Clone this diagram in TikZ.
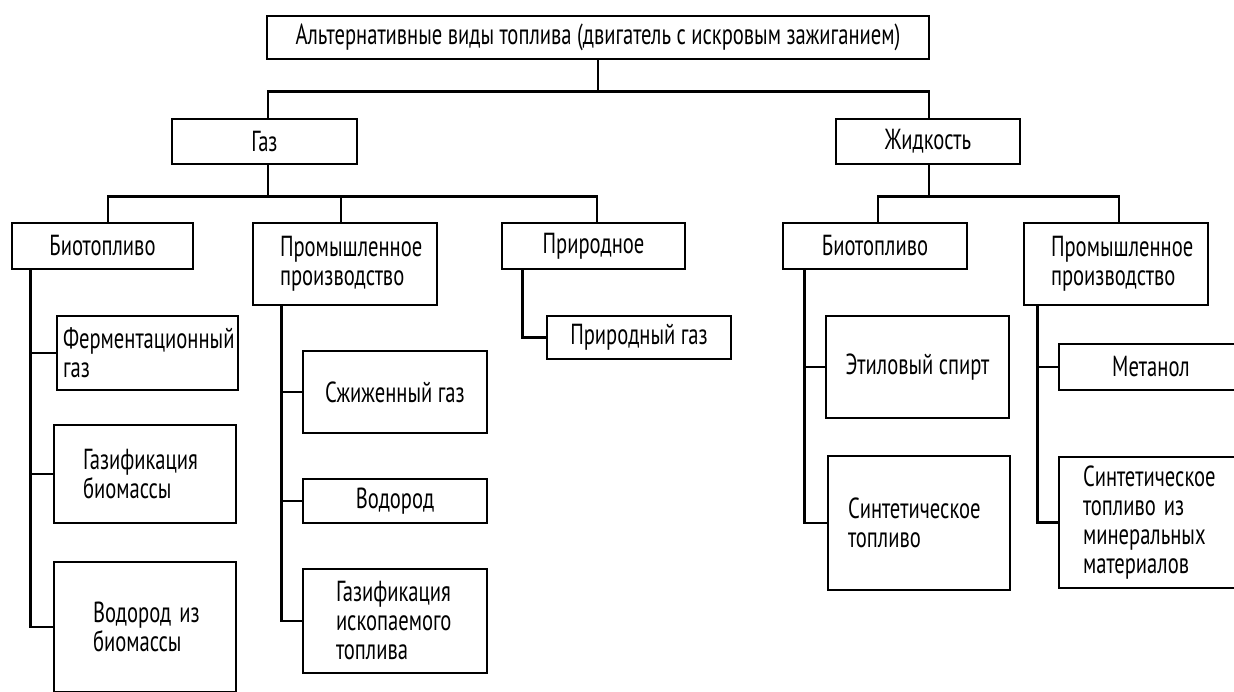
\documentclass[tikz,border=0pt]{standalone}
\usepackage{fontspec}
\setmainfont[FakeStretch=0.71]{PT Sans}
\begin{document}
\begin{tikzpicture}[x=1pt,y=-1pt,
  box/.style={draw, line width=2.7pt, inner sep=0pt, align=center,
    font=\fontsize{29}{29}\selectfont},
  lbox/.style={box, align=left},
  conn/.style={line width=2.4pt}]
\useasboundingbox (0,0) rectangle (1234,691);
\clip (0,0) rectangle (1234,691);
% level 0
\node[box, minimum width=662pt, minimum height=43pt] (top) at (598,37.5)
  {Альтернативные виды топлива (двигатель с искровым зажиганием)};
% level 1
\node[box, minimum width=185pt, minimum height=45pt] (gas) at (264.5,141.5) {Газ};
\node[box, minimum width=184pt, minimum height=45pt] (liq) at (928,141.5) {Жидкость};
% level 2
\node[box, minimum width=181pt, minimum height=46pt] (lbio) at (102.5,246) {Биотопливо};
\node[lbox, text width=130pt, minimum width=184pt, minimum height=82pt] (lprom) at (345,264)
  {Промышленное\\производство};
\node[box, minimum width=183pt, minimum height=46pt] (prir) at (593.5,246) {Природное};
\node[box, minimum width=184pt, minimum height=46pt] (rbio) at (875,246) {Биотопливо};
\node[lbox, text width=130pt, minimum width=184pt, minimum height=82pt] (rprom) at (1116,264)
  {Промышленное\\производство};
% level 3 -- left biofuel
\node[lbox, text width=169pt, minimum width=181pt, minimum height=74pt] (ferm) at (147.5,353)
  {Ферментационный\\газ};
\node[lbox, text width=124pt, minimum width=182pt, minimum height=98pt] (gasb) at (145,474)
  {Газификация\\биомассы};
\node[lbox, text width=104pt, minimum width=182pt, minimum height=130pt] (vodb) at (145,627)
  {\mbox{Водород\kern8pt из}\\биомассы};
% level 3 -- left industrial
\node[box, minimum width=184pt, minimum height=82pt] (szh) at (395,392) {Сжиженный газ};
\node[box, minimum width=184pt, minimum height=44pt] (vod) at (395,501) {Водород};
\node[lbox, text width=118pt, minimum width=184pt, minimum height=104pt] (gasi) at (395,621)
  {Газификация\\ископаемого\\топлива};
% level 3 -- natural
\node[box, minimum width=184pt, minimum height=43pt] (prgas) at (639,337.5) {Природный газ};
% level 3 -- right biofuel
\node[box, minimum width=183pt, minimum height=102pt] (etil) at (917.5,367) {Этиловый спирт};
\node[lbox, text width=142pt, minimum width=182pt, minimum height=134pt] (synt) at (919,523)
  {Синтетическое\\топливо};
% level 3 -- right industrial
\node[box, minimum width=184pt, minimum height=46pt] (meth) at (1151,367) {Метанол};
\node[lbox, text width=136pt, minimum width=184pt, minimum height=131pt] (syntm) at (1151,522.5)
  {Синтетическое\\\mbox{топливо\kern8pt из}\\минеральных\\материалов};
% connectors
\draw[conn] (top.south) -- ++(0,31) -| ([xshift=3.5pt]gas.north);
\draw[conn] (top.south) -- ++(0,31) -| ([xshift=1pt]liq.north);
\draw[conn] ([xshift=3.5pt]gas.south) -- ++(0,31) -| ([xshift=5.5pt]lbio.north);
\draw[conn] ([xshift=3.5pt]gas.south) -- ++(0,31) -| ([xshift=-4pt]lprom.north);
\draw[conn] ([xshift=3.5pt]gas.south) -- ++(0,31) -| ([xshift=3.5pt]prir.north);
\draw[conn] ([xshift=1pt]liq.south) -- ++(0,31) -| ([xshift=3pt]rbio.north);
\draw[conn] ([xshift=1pt]liq.south) -- ++(0,31) -| ([xshift=3pt]rprom.north);
\draw[conn] ([xshift=20pt]lbio.south west) |- (ferm.west);
\draw[conn] ([xshift=20pt]lbio.south west) |- (gasb.west);
\draw[conn] ([xshift=20pt]lbio.south west) |- (vodb.west);
\draw[conn] ([xshift=30pt]lprom.south west) |- (szh.west);
\draw[conn] ([xshift=30pt]lprom.south west) |- (vod.west);
\draw[conn] ([xshift=30pt]lprom.south west) |- (gasi.west);
\draw[conn] ([xshift=22pt]prir.south west) |- (prgas.west);
\draw[conn] ([xshift=23pt]rbio.south west) |- (etil.west);
\draw[conn] ([xshift=23pt]rbio.south west) |- (synt.west);
\draw[conn] ([xshift=15pt]rprom.south west) |- (meth.west);
\draw[conn] ([xshift=15pt]rprom.south west) |- (syntm.west);
\end{tikzpicture}
\end{document}
